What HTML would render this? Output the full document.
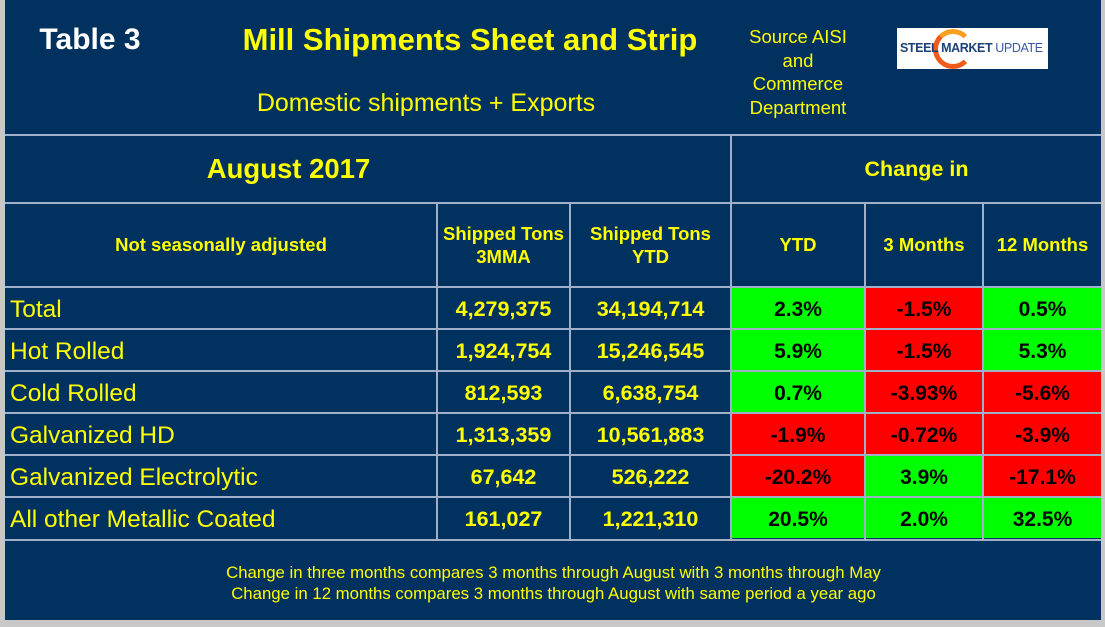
<!DOCTYPE html>
<html><head><meta charset="utf-8"><style>
body{margin:0;width:1105px;height:627px;background:#c8c8c8;position:relative;overflow:hidden;font-family:"Liberation Sans",Arial,sans-serif}
#panel{position:absolute;left:5px;top:0;width:1096px;height:620px;background:#00315f}
.a{position:absolute;display:flex;align-items:center;justify-content:center;text-align:center;color:#ffff00;box-sizing:border-box;white-space:nowrap}
.h{position:absolute;height:2px;background:#9fb0c8}
.v{position:absolute;width:2px;background:#9fb0c8}
.b{font-weight:bold}
.g{background:#00ff00;color:#000;font-weight:bold;font-size:21px}
.r{background:#ff0000;color:#000;font-weight:bold;font-size:21px}
</style></head><body>
<div id="panel"></div>
<div class="a b" style="left:30px;top:20px;width:120px;height:40px;color:#fff;font-size:30px">Table 3</div>
<div class="a b" style="left:220px;top:18px;width:500px;height:44px;font-size:31px">Mill Shipments Sheet and Strip</div>
<div class="a" style="left:226px;top:86px;width:400px;height:34px;font-size:25px">Domestic shipments + Exports</div>
<div class="a" style="left:728px;top:24px;width:140px;height:96px;font-size:18.5px;line-height:23.5px">Source AISI<br>and<br>Commerce<br>Department</div>
<div style="position:absolute;left:897px;top:28px;width:151px;height:41px;background:#fff;overflow:hidden">
<div style="position:absolute;left:36px;top:1px;width:40px;height:40px;border-radius:50%;border:5px solid #f05a1a;border-right-color:transparent;border-top-color:#f9a020;box-sizing:border-box"></div>
<div style="position:absolute;left:3px;top:13px;font-size:12.5px;font-weight:bold;color:#1d3f7a;white-space:nowrap;letter-spacing:-0.4px">STEEL MARKET <span style="font-weight:normal;color:#3a5ca0">UPDATE</span></div>
</div>
<div class="h" style="left:5px;top:134px;width:1096px"></div>
<div class="h" style="left:5px;top:202px;width:1096px"></div>
<div class="h" style="left:5px;top:286px;width:1096px"></div>
<div class="h" style="left:5px;top:328px;width:1096px"></div>
<div class="h" style="left:5px;top:370px;width:1096px"></div>
<div class="h" style="left:5px;top:412px;width:1096px"></div>
<div class="h" style="left:5px;top:454px;width:1096px"></div>
<div class="h" style="left:5px;top:496px;width:1096px"></div>
<div class="h" style="left:5px;top:539px;width:1096px"></div>
<div class="v" style="left:730px;top:135px;height:405px"></div>
<div class="v" style="left:436px;top:203px;height:337px"></div>
<div class="v" style="left:569px;top:203px;height:337px"></div>
<div class="v" style="left:864px;top:203px;height:337px"></div>
<div class="v" style="left:982px;top:203px;height:337px"></div>
<div class="a b" style="left:6px;top:136px;width:565px;height:66px;font-size:27.5px">August 2017</div>
<div class="a b" style="left:732px;top:136px;width:369px;height:66px;font-size:21.5px">Change in</div>
<div class="a b" style="left:6px;top:204px;width:430px;height:82px;font-size:18.5px">Not seasonally adjusted</div>
<div class="a b" style="left:438px;top:204px;width:131px;height:82px;font-size:18.5px;line-height:23px">Shipped Tons<br>3MMA</div>
<div class="a b" style="left:571px;top:204px;width:159px;height:82px;font-size:18.5px;line-height:23px">Shipped Tons<br>YTD</div>
<div class="a b" style="left:732px;top:204px;width:132px;height:82px;font-size:18.5px">YTD</div>
<div class="a b" style="left:866px;top:204px;width:116px;height:82px;font-size:18.5px">3 Months</div>
<div class="a b" style="left:984px;top:204px;width:117px;height:82px;font-size:18.5px">12 Months</div>
<div id="rows"></div>
<div class="a" style="left:6px;top:560px;width:1095px;height:46px;font-size:16.8px;line-height:21px">Change in three months compares 3 months through August with 3 months through May<br>Change in 12 months compares 3 months through August with same period a year ago</div>
<script>
const labels=["Total","Hot Rolled","Cold Rolled","Galvanized HD","Galvanized Electrolytic","All other Metallic Coated"];
const tons3mma=["4,279,375","1,924,754","812,593","1,313,359","67,642","161,027"];
const tonsYtd=["34,194,714","15,246,545","6,638,754","10,561,883","526,222","1,221,310"];
const chgYtd=["2.3%","5.9%","0.7%","-1.9%","-20.2%","20.5%"];
const chg3m=["-1.5%","-1.5%","-3.93%","-0.72%","3.9%","2.0%"];
const chg12m=["0.5%","5.3%","-5.6%","-3.9%","-17.1%","32.5%"];
const host=document.getElementById('rows');
function cell(x,w,y,txt,cls,style){const d=document.createElement('div');d.className='a '+cls;d.textContent=txt;d.style.cssText='left:'+x+'px;top:'+y+'px;width:'+w+'px;height:40px;padding-top:3px;'+(style||'');host.appendChild(d);return d;}
labels.forEach((l,i)=>{
const y=288+i*42;
let c=cell(6,430,y,l,'',"justify-content:flex-start;padding-left:4px;font-size:24.5px");


c=cell(438,131,y,tons3mma[i],'b','font-size:21.5px');


c=cell(571,159,y,tonsYtd[i],'b','font-size:21.5px');


[[732,132,chgYtd[i]],[866,116,chg3m[i]],[984,117,chg12m[i]]].forEach(([x,w,v],k)=>{
const neg=v.trim().startsWith('-');
const e=cell(x,w,y,v,neg?'r':'g');


});
});
</script>
</body></html>
